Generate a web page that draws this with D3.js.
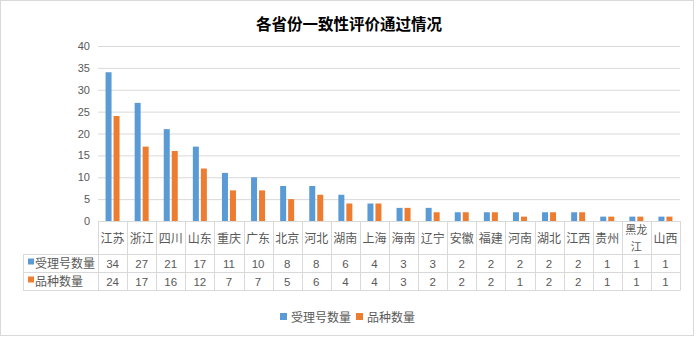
<!DOCTYPE html>
<html><head><meta charset="utf-8">
<script src="https://cdn.jsdelivr.net/npm/d3@7"></script>
<style>body{margin:0;background:#fff}</style>
</head><body>
<svg id="c" width="697" height="338"></svg>
<script>
const categories = ["江苏","浙江","四川","山东","重庆","广东","北京","河北","湖南","上海","海南","辽宁","安徽","福建","河南","湖北","江西","贵州","黑龙江","山西"];
const seriesNames = ["受理号数量","品种数量"];
const acceptCounts = [34,27,21,17,11,10,8,8,6,4,3,3,2,2,2,2,2,1,1,1];
const varietyCounts = [24,17,16,12,7,7,5,6,4,4,3,2,2,2,1,2,2,1,1,1];
const yTicks = [0,5,10,15,20,25,30,35,40];
const colors = ["#5b9bd5","#ed7d31"];
const series = [acceptCounts, varietyCounts];

const svg = d3.select("#c");
const font = "'Noto Sans CJK SC','Liberation Sans',sans-serif";
const textColor = "#595959";
const gridColor = "#d9d9d9";

svg.append("rect").attr("x",0.5).attr("y",0.5).attr("width",693).attr("height",335)
  .attr("fill","#fff").attr("stroke","#d9d9d9");

svg.append("text").attr("x",349).attr("y",30).attr("text-anchor","middle")
  .attr("font-family",font).attr("font-size",15.5).attr("font-weight","bold").attr("fill","#000")
  .text("各省份一致性评价通过情况");

const x0 = 98, x1 = 680, yTop = 46, yBot = 221;
const x = d3.scaleBand().domain(categories).range([x0,x1]);
const y = d3.scaleLinear().domain([0,40]).range([yBot,yTop]);

// gridlines
svg.append("g").selectAll("line").data(yTicks).join("line")
  .attr("x1",x0).attr("x2",x1).attr("y1",d=>y(d)+0.5).attr("y2",d=>y(d)+0.5)
  .attr("stroke",gridColor).attr("stroke-width",1);

// y axis labels
const yAxis = d3.axisLeft(y).tickValues(yTicks).tickSize(0).tickPadding(8);
const ga = svg.append("g").attr("transform",`translate(${x0},0)`).call(yAxis);
ga.select(".domain").remove();
ga.selectAll("text").attr("font-family","'Liberation Sans',Arial,sans-serif").attr("font-size",11).attr("fill",textColor);

// bars
const barW = 6, gap = 2;
series.forEach((vals,si)=>{
  svg.append("g").selectAll("rect").data(vals).join("rect")
    .attr("x",(d,i)=>x(categories[i]) + x.bandwidth()/2 - (barW*2+gap)/2 + si*(barW+gap))
    .attr("width",barW)
    .attr("y",d=>y(d)).attr("height",d=>yBot-y(d))
    .attr("fill",colors[si]);
});

// data table
const tLeft = 23, hBot = 254, r1Bot = 272, r2Bot = 290;
const tg = svg.append("g").attr("stroke",gridColor).attr("stroke-width",1).attr("fill","none");
tg.append("line").attr("x1",x0).attr("x2",x1).attr("y1",yBot+0.5).attr("y2",yBot+0.5);
[hBot,r1Bot,r2Bot].forEach(yy=>{
  tg.append("line").attr("x1",tLeft).attr("x2",x1).attr("y1",yy+0.5).attr("y2",yy+0.5);
});
const bounds = categories.map(c=>x(c)).concat([x1]);
bounds.forEach(bx=>{
  tg.append("line").attr("x1",Math.round(bx)+0.5).attr("x2",Math.round(bx)+0.5).attr("y1",yBot).attr("y2",r2Bot+0.5);
});
tg.append("line").attr("x1",tLeft+0.5).attr("x2",tLeft+0.5).attr("y1",hBot).attr("y2",r2Bot+0.5);

// category labels
const cg = svg.append("g").attr("font-family",font).attr("font-size",12).attr("fill",textColor).attr("text-anchor","middle");
categories.forEach(c=>{
  const cx = x(c)+x.bandwidth()/2;
  if (c.length>2) {
    cg.append("text").attr("x",cx).attr("y",233.5).attr("font-size",11).text(c.slice(0,2));
    cg.append("text").attr("x",cx).attr("y",250.5).attr("font-size",11).text(c.slice(2));
  } else {
    cg.append("text").attr("x",cx).attr("y",242.5).text(c);
  }
});

// values rows
const rowY = [267.5, 285.5];
series.forEach((vals,si)=>{
  svg.append("g").selectAll("text").data(vals).join("text")
    .attr("x",(d,i)=>x(categories[i])+x.bandwidth()/2).attr("y",rowY[si])
    .attr("text-anchor","middle").attr("font-family","'Liberation Sans',Arial,sans-serif")
    .attr("font-size",11.5).attr("fill",textColor).text(d=>d);
  svg.append("rect").attr("x",28).attr("y",rowY[si]-9).attr("width",6).attr("height",6).attr("fill",colors[si]);
  svg.append("text").attr("x",35).attr("y",rowY[si]).attr("font-family",font).attr("font-size",12)
    .attr("fill",textColor).text(seriesNames[si]);
});

// legend
const legX = [280,356];
seriesNames.forEach((n,i)=>{
  svg.append("rect").attr("x",legX[i]).attr("y",313).attr("width",7).attr("height",7).attr("fill",colors[i]);
  svg.append("text").attr("x",legX[i]+11).attr("y",322).attr("font-family",font).attr("font-size",12)
    .attr("fill",textColor).text(n);
});
</script>
</body></html>
